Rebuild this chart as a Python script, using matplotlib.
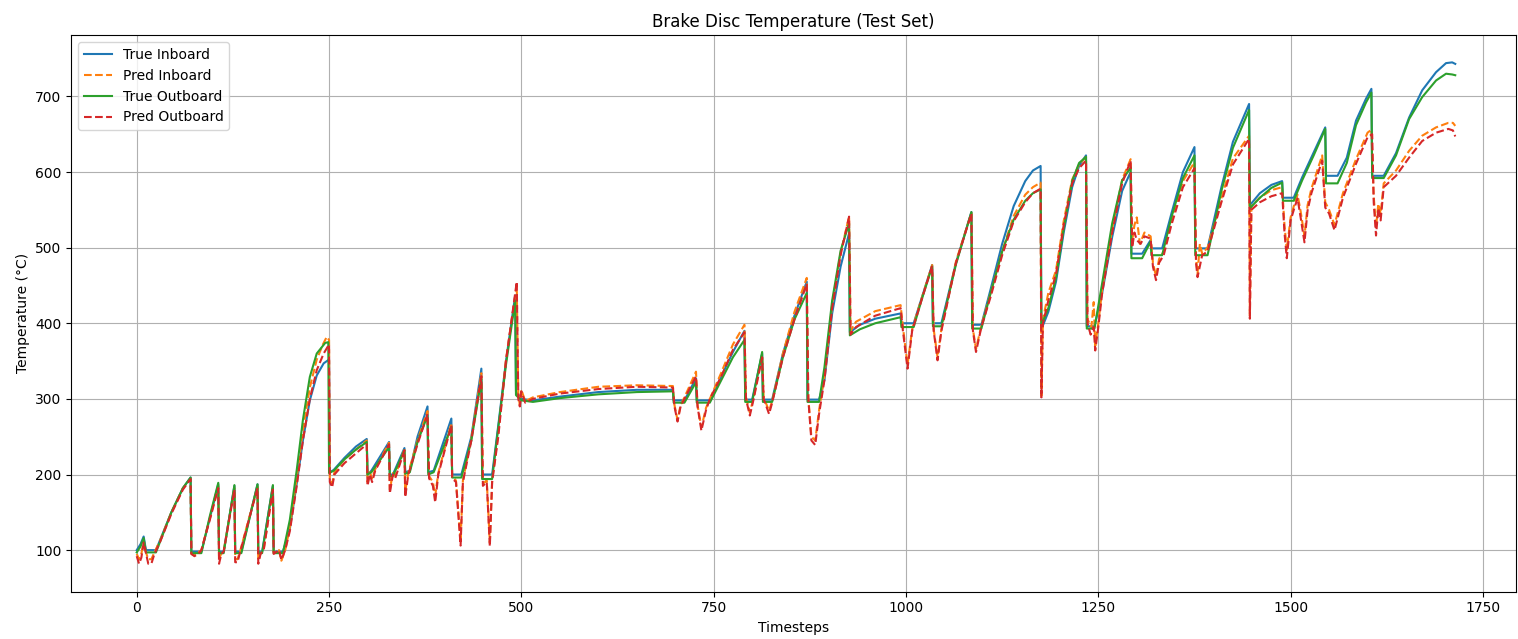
import matplotlib
matplotlib.use("Agg")
import matplotlib.pyplot as plt

# (timestep, temperature) breakpoints for each trace
true_inboard = [
    (0, 100), (5, 108), (9, 118), (12, 100), (25, 100), (45, 150), (60, 182), (70, 196),
    (71, 98), (84, 98), (95, 142), (106, 187), (107, 98), (113, 98), (127, 185), (128, 98),
    (136, 98), (157, 187), (158, 98), (163, 98), (177, 185), (178, 98), (190, 98), (199, 128),
    (208, 188), (216, 245), (225, 298), (234, 331), (243, 347), (250, 352),
    (251, 203), (256, 206), (270, 222), (285, 237), (299, 247), (300, 200), (305, 205),
    (328, 243), (329, 200), (333, 200), (348, 235), (349, 203), (355, 205), (365, 250),
    (378, 290), (379, 203), (386, 205), (409, 274), (410, 200), (422, 200), (435, 250),
    (448, 340), (449, 200), (462, 200), (470, 265), (480, 350), (492, 437), (493, 310),
    (500, 300), (515, 298), (550, 303), (600, 309), (650, 312), (697, 312), (698, 298),
    (712, 298), (727, 327), (728, 298), (745, 298), (760, 330), (775, 362), (790, 390),
    (791, 299), (800, 299), (813, 360), (814, 299), (826, 299), (840, 360), (855, 410),
    (871, 455), (872, 299), (887, 299), (894, 325), (904, 413), (915, 475), (926, 519),
    (927, 388), (940, 398), (960, 406), (993, 413), (994, 400), (1010, 400), (1020, 432),
    (1034, 477), (1035, 400), (1046, 400), (1065, 480), (1085, 547), (1086, 398),
    (1098, 398), (1110, 445), (1125, 505), (1140, 555), (1155, 588), (1165, 602),
    (1175, 608), (1176, 392), (1185, 415), (1195, 455), (1205, 520), (1216, 580),
    (1225, 608), (1234, 622), (1235, 396), (1245, 396), (1255, 440), (1268, 514),
    (1281, 575), (1292, 600), (1293, 492), (1307, 492), (1318, 510), (1319, 499),
    (1333, 499), (1345, 545), (1360, 600), (1375, 633), (1376, 499), (1392, 499),
    (1410, 580), (1425, 640), (1446, 690), (1447, 556), (1460, 572), (1475, 583),
    (1489, 588), (1490, 566), (1504, 566), (1515, 593), (1530, 626), (1545, 659),
    (1546, 595), (1561, 595), (1573, 619), (1585, 668), (1598, 697), (1605, 710),
    (1606, 595), (1621, 595), (1637, 625), (1654, 672), (1671, 708), (1689, 732),
    (1702, 744), (1710, 745), (1714, 743),
]

pred_inboard = [
    (0, 95), (3, 88), (6, 95), (9, 112), (12, 97), (15, 88), (19, 88), (23, 97), (30, 112),
    (45, 150), (60, 182), (70, 195), (71, 95), (75, 93), (80, 97), (84, 100), (95, 142),
    (106, 185), (107, 88), (110, 96), (113, 99), (127, 182), (128, 88), (131, 88), (134, 97),
    (157, 184), (158, 86), (161, 96), (165, 100), (177, 182), (178, 96), (185, 100),
    (188, 86), (193, 100), (199, 130), (208, 195), (216, 258), (225, 315), (234, 352),
    (242, 372), (247, 382), (250, 378), (251, 195), (254, 188), (257, 203), (270, 220),
    (285, 233), (299, 245), (300, 190), (303, 203), (306, 195), (310, 207), (328, 242),
    (329, 180), (333, 202), (336, 198), (348, 234), (349, 178), (353, 202), (365, 245),
    (378, 284), (380, 198), (385, 190), (388, 172), (392, 202), (409, 268), (410, 198),
    (415, 192), (421, 112), (424, 192), (435, 248), (448, 334), (450, 188), (455, 192),
    (459, 110), (462, 192), (470, 255), (480, 352), (494, 450), (496, 305), (498, 292),
    (500, 312), (505, 297), (515, 302), (550, 309), (600, 316), (650, 318), (697, 317),
    (699, 292), (703, 272), (707, 292), (712, 302), (727, 336), (729, 292), (734, 262),
    (740, 288), (745, 300), (760, 335), (775, 372), (790, 398), (792, 302), (797, 282),
    (802, 302), (813, 358), (815, 302), (822, 284), (826, 297), (840, 360), (855, 415),
    (871, 460), (873, 302), (877, 250), (882, 245), (887, 285), (894, 330), (904, 425),
    (915, 493), (926, 541), (928, 390), (935, 402), (960, 416), (993, 424), (996, 395),
    (1002, 345), (1008, 392), (1020, 432), (1034, 477), (1036, 392), (1041, 355),
    (1046, 392), (1065, 482), (1085, 546), (1087, 392), (1091, 366), (1098, 397),
    (1110, 440), (1125, 495), (1140, 542), (1155, 570), (1165, 580), (1175, 586),
    (1176, 304), (1178, 405), (1185, 440), (1195, 470), (1205, 535), (1216, 590),
    (1225, 610), (1234, 620), (1236, 405), (1241, 395), (1244, 428), (1246, 370),
    (1250, 400), (1255, 445), (1268, 525), (1281, 590), (1292, 617), (1294, 510),
    (1297, 530), (1300, 540), (1304, 505), (1310, 520), (1318, 515), (1321, 480),
    (1325, 462), (1329, 485), (1335, 495), (1345, 535), (1360, 588), (1375, 613),
    (1377, 486), (1379, 466), (1382, 505), (1385, 492), (1392, 500), (1410, 565),
    (1425, 618), (1446, 648), (1447, 410), (1449, 555), (1460, 566), (1475, 576),
    (1489, 580), (1492, 530), (1495, 497), (1500, 540), (1505, 558), (1509, 570),
    (1513, 548), (1518, 515), (1522, 556), (1527, 578), (1541, 622), (1545, 560),
    (1550, 550), (1557, 530), (1568, 572), (1585, 617), (1600, 652), (1605, 656),
    (1608, 568), (1611, 527), (1614, 558), (1617, 545), (1621, 585), (1637, 602),
    (1654, 628), (1671, 648), (1689, 659), (1705, 665), (1711, 665), (1714, 661),
]

true_outboard = [
    (0, 97), (5, 105), (9, 116), (12, 97), (25, 97), (45, 150), (60, 182), (70, 196),
    (71, 96), (84, 96), (95, 145), (106, 189), (107, 96), (113, 96), (127, 186), (128, 96),
    (136, 96), (157, 187), (158, 96), (163, 96), (177, 186), (178, 96), (190, 96), (199, 140),
    (208, 206), (216, 272), (225, 329), (234, 360), (245, 374), (249, 375),
    (250, 202), (256, 205), (270, 220), (285, 233), (299, 243), (300, 200), (305, 203),
    (328, 236), (329, 198), (333, 198), (348, 232), (349, 201), (355, 203), (365, 243),
    (378, 278), (379, 200), (386, 203), (409, 263), (410, 196), (422, 196), (435, 245),
    (448, 326), (449, 194), (462, 194), (470, 262), (480, 345), (492, 430), (493, 305),
    (500, 298), (515, 296), (550, 301), (600, 306), (650, 309), (697, 310), (698, 295),
    (712, 295), (727, 322), (728, 295), (745, 295), (760, 325), (775, 355), (790, 378),
    (791, 296), (800, 296), (813, 362), (814, 296), (826, 296), (840, 355), (855, 405),
    (871, 440), (872, 296), (887, 296), (894, 342), (904, 430), (915, 496), (926, 532),
    (927, 384), (940, 392), (960, 400), (993, 408), (994, 395), (1010, 395), (1020, 430),
    (1034, 475), (1035, 396), (1046, 396), (1065, 478), (1085, 547), (1086, 393),
    (1098, 393), (1110, 440), (1125, 495), (1140, 537), (1155, 562), (1165, 572),
    (1175, 577), (1176, 397), (1185, 420), (1195, 460), (1205, 525), (1216, 588),
    (1225, 612), (1234, 620), (1235, 393), (1245, 393), (1255, 453), (1268, 532),
    (1281, 589), (1292, 606), (1293, 486), (1307, 486), (1318, 508), (1319, 490),
    (1333, 490), (1345, 540), (1360, 592), (1375, 622), (1376, 490), (1392, 490),
    (1410, 575), (1425, 632), (1446, 682), (1447, 552), (1460, 566), (1475, 579),
    (1489, 586), (1490, 562), (1504, 562), (1515, 589), (1530, 622), (1545, 657),
    (1546, 585), (1561, 585), (1573, 612), (1585, 662), (1598, 692), (1605, 705),
    (1606, 592), (1621, 592), (1637, 622), (1654, 670), (1671, 699), (1689, 721),
    (1702, 730), (1710, 729), (1714, 728),
]

pred_outboard = [
    (0, 92), (3, 82), (6, 90), (9, 110), (12, 96), (15, 82), (19, 82), (23, 95), (30, 110),
    (45, 148), (60, 180), (70, 194), (71, 95), (75, 92), (80, 95), (84, 100), (95, 140),
    (106, 182), (107, 82), (110, 95), (113, 98), (127, 180), (128, 84), (131, 84), (134, 96),
    (157, 182), (158, 82), (161, 95), (165, 100), (177, 180), (178, 95), (185, 100),
    (188, 87), (193, 100), (199, 125), (208, 185), (216, 245), (225, 300), (234, 338),
    (243, 360), (250, 372), (251, 190), (254, 183), (257, 200), (270, 215), (285, 228),
    (299, 240), (300, 185), (303, 200), (306, 190), (310, 205), (328, 240), (329, 175),
    (333, 200), (336, 195), (348, 232), (349, 170), (353, 200), (365, 240), (378, 280),
    (380, 195), (385, 185), (388, 163), (392, 200), (409, 265), (410, 195), (415, 190),
    (421, 106), (424, 190), (435, 245), (448, 330), (450, 185), (455, 190), (459, 105),
    (462, 190), (470, 250), (480, 350), (494, 455), (496, 300), (498, 290), (500, 310),
    (505, 295), (515, 300), (550, 307), (600, 313), (650, 316), (697, 315), (699, 290),
    (703, 270), (707, 290), (712, 300), (727, 330), (729, 290), (734, 258), (740, 285),
    (745, 300), (760, 330), (775, 365), (790, 388), (792, 300), (797, 278), (802, 300),
    (813, 355), (815, 300), (822, 280), (826, 295), (840, 355), (855, 405), (871, 452),
    (873, 300), (877, 245), (882, 239), (887, 280), (894, 325), (904, 420), (915, 490),
    (926, 541), (928, 385), (935, 395), (960, 410), (993, 420), (996, 390), (1002, 340),
    (1008, 390), (1020, 430), (1034, 476), (1036, 390), (1041, 351), (1046, 390),
    (1065, 480), (1085, 545), (1087, 390), (1091, 362), (1098, 395), (1110, 435),
    (1125, 490), (1140, 535), (1155, 560), (1165, 572), (1175, 578), (1176, 302),
    (1178, 400), (1185, 430), (1195, 465), (1205, 530), (1216, 585), (1225, 605),
    (1234, 615), (1236, 400), (1240, 385), (1244, 395), (1246, 364), (1250, 395),
    (1255, 440), (1268, 520), (1281, 585), (1292, 615), (1294, 500), (1297, 520),
    (1300, 510), (1305, 505), (1310, 515), (1318, 512), (1321, 475), (1325, 457),
    (1329, 480), (1335, 490), (1345, 530), (1360, 580), (1375, 605), (1377, 480),
    (1379, 461), (1385, 490), (1392, 495), (1410, 560), (1425, 610), (1446, 644),
    (1447, 406), (1449, 550), (1460, 560), (1475, 568), (1489, 572), (1492, 520),
    (1495, 486), (1500, 536), (1505, 553), (1509, 565), (1513, 540), (1518, 507),
    (1522, 549), (1527, 572), (1541, 615), (1545, 553), (1550, 545), (1557, 523),
    (1568, 566), (1585, 611), (1600, 646), (1606, 650), (1608, 560), (1611, 516),
    (1614, 552), (1617, 536), (1621, 580), (1637, 595), (1654, 619), (1671, 641),
    (1689, 652), (1705, 657), (1711, 655), (1714, 647),
]

series = [
    ("True Inboard", true_inboard, "tab:blue", "-"),
    ("Pred Inboard", pred_inboard, "tab:orange", "--"),
    ("True Outboard", true_outboard, "tab:green", "-"),
    ("Pred Outboard", pred_outboard, "tab:red", "--"),
]

fig, ax = plt.subplots(figsize=(15.18, 6.39), dpi=100)

for label, pts, color, ls in series:
    t, temp = zip(*pts)
    ax.plot(t, temp, color=color, linestyle=ls, label=label)

ax.set_xlim(-85, 1793)
ax.set_ylim(45, 781)
ax.set_title("Brake Disc Temperature (Test Set)")
ax.set_xlabel("Timesteps")
ax.set_ylabel("Temperature (°C)")
ax.legend(loc="upper left")
ax.grid(True)

fig.subplots_adjust(left=0.047, right=0.9987, top=0.945, bottom=0.074)
fig.savefig("out.png", dpi=100)
